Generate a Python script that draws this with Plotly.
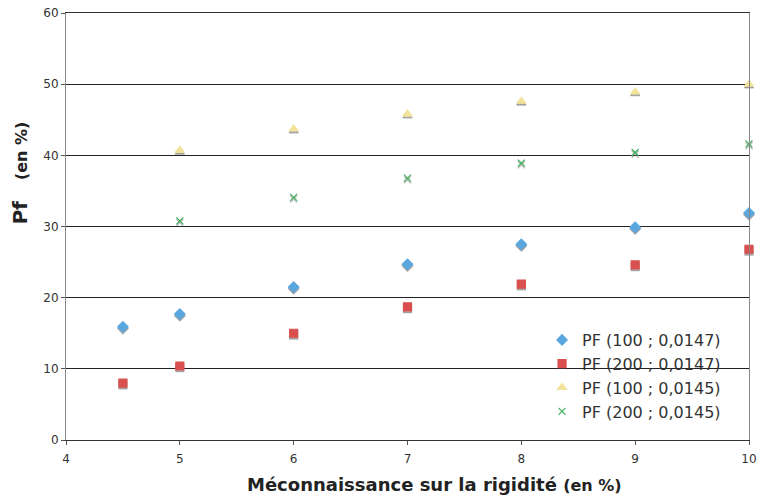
import plotly.graph_objects as go

x_full = [4.5, 5, 6, 7, 8, 9, 10]
x_part = [5, 6, 7, 8, 9, 10]

pf_100_0147 = [15.9, 17.7, 21.5, 24.7, 27.5, 29.9, 31.9]
pf_200_0147 = [8.0, 10.4, 15.0, 18.7, 21.9, 24.6, 26.8]
pf_100_0145 = [40.7, 43.7, 45.8, 47.6, 48.9, 50.0]
pf_200_0145 = [30.8, 34.1, 36.8, 38.9, 40.4, 41.6]

series = [
    ('PF (100 ; 0,0147)', x_full, pf_100_0147, 'diamond', '#5aa7e0', 8),
    ('PF (200 ; 0,0147)', x_full, pf_200_0147, 'square', '#d9504e', 8),
    ('PF (100 ; 0,0145)', x_part, pf_100_0145, 'triangle-up', '#f2e39b', 8),
    ('PF (200 ; 0,0145)', x_part, pf_200_0145, 'x-thin', '#3fae5a', 7),
]

fig = go.Figure()
for name, xs, ys, sym, col, size in series:
    # soft grey drop shadow under each marker
    fig.add_trace(go.Scatter(x=xs, y=[v - 0.25 for v in ys], mode='markers', showlegend=False,
                             hoverinfo='skip', cliponaxis=False,
                             marker=dict(symbol=sym, size=size, color='rgba(120,120,120,0.55)',
                                         line=dict(color='rgba(120,120,120,0.55)', width=1.2))))
    fig.add_trace(go.Scatter(x=xs, y=ys, mode='markers', name=name, cliponaxis=False,
                             marker=dict(symbol=sym, size=size, color=col,
                                         line=dict(color=col, width=1.2))))

fig.update_layout(
    width=757, height=500,
    margin=dict(l=66, r=8, t=13, b=60),
    paper_bgcolor='white', plot_bgcolor='white',
    font=dict(family='DejaVu Sans, Verdana, sans-serif', color='#333333', size=12),
    showlegend=True,
    legend=dict(x=0.697, y=0.274, xanchor='left', yanchor='top', bgcolor='rgba(0,0,0,0)',
                font=dict(size=16, color='#333333'), tracegroupgap=0, itemwidth=30),
    xaxis=dict(range=[4, 10], dtick=1, tick0=4, showgrid=False, zeroline=False, automargin=False,
               showline=True, linecolor='#333333', linewidth=1, mirror=True,
               ticks='outside', ticklen=4, tickcolor='#555555', tickfont=dict(size=12),
               ticklabeloverflow='allow', ticklabelstandoff=4),
    yaxis=dict(range=[0, 60], dtick=10, showgrid=True, gridcolor='#222222', gridwidth=1,
               zeroline=False, showline=True, linecolor='#888888', linewidth=1, mirror=True,
               automargin=False, ticks='outside', ticklen=4, tickcolor='#555555',
               tickfont=dict(size=12), ticklabeloverflow='allow'),
    annotations=[
        dict(text='<b>Méconnaissance sur la rigidité <span style="font-size:16px">(en %)</span></b>',
             xref='paper', yref='paper', x=0.539, y=-0.105, xanchor='center', yanchor='middle',
             showarrow=False, font=dict(size=18, color='#222222')),
        dict(text='<b>Pf&nbsp;&nbsp; <span style="font-size:16px">(en %)</span></b>',
             xref='paper', yref='paper', x=-0.067, y=0.625, xanchor='center', yanchor='middle',
             textangle=-90, showarrow=False, font=dict(size=20, color='#222222')),
    ],
)

# drop the browser's default body margin so the figure sits at the page corner
fig.write_html('out.html', config={'displayModeBar': False},
               post_script="document.body.style.margin='0';document.body.style.overflow='hidden';")
